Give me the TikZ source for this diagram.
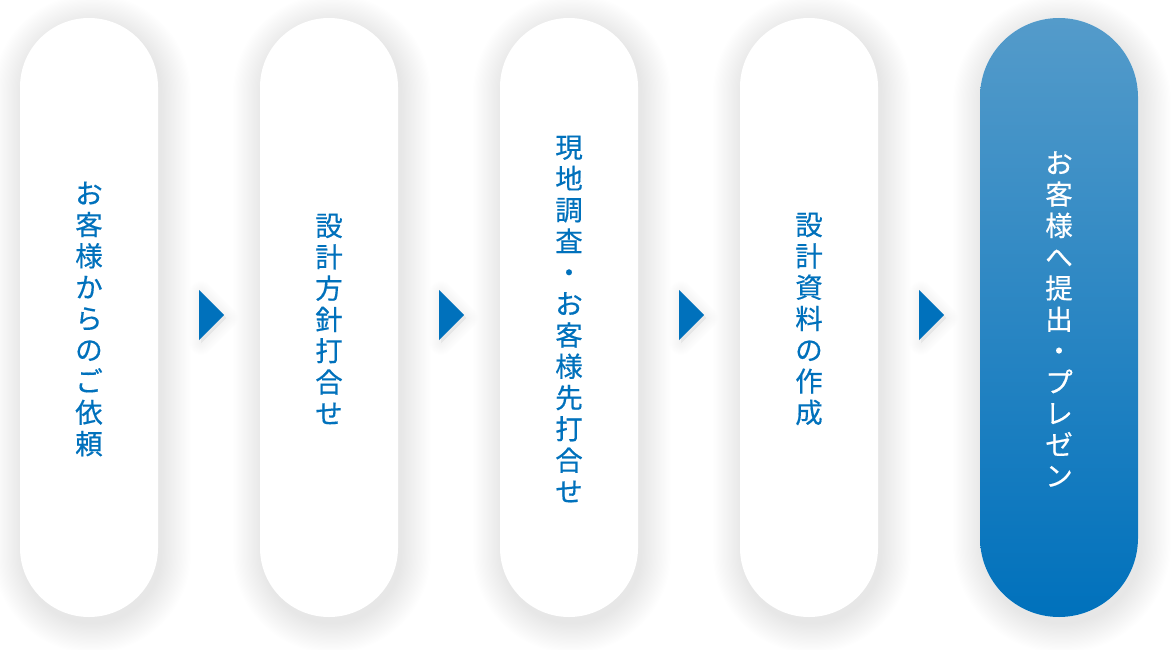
\documentclass[tikz,border=0pt]{standalone}
\usepackage{fontspec}
\newfontfamily\jp[FakeBold=0.4]{Noto Sans CJK JP}
\definecolor{cblue}{HTML}{0071BC}
\definecolor{ctop}{HTML}{549BCA}
\tikzset{
  pill/.style={rectangle, rounded corners=69pt, minimum width=138pt, minimum height=599pt,
    fill=white, inner sep=0pt},
  lastpill/.style={pill, rounded corners=79pt, minimum width=158pt, top color=ctop, bottom color=cblue},
  lbl/.style={align=center, font=\jp\fontsize{27.5}{31.3}\selectfont, text=cblue, inner sep=0pt},
  lastlbl/.style={lbl, text=white},
  shadowlayer/.style={fill=black, opacity=0.0038},
  trishadow/.style={draw=black, fill=black, opacity=0.0045, line join=round},
  arrowtri/.style={fill=cblue}
}
\begin{document}
\begin{tikzpicture}[x=1pt,y=-1pt]
\useasboundingbox[fill=white] (0,0) rectangle (1172,650);
% soft shadows of the pills
\foreach \cx/\hw in {89/69,329/69,569/69,809/69,1059/79}{
  \foreach \k in {1,...,24}{
    \pgfmathsetmacro{\e}{\k*1.25}
    \pgfmathsetmacro{\r}{\hw+\e}
    \fill[shadowlayer, rounded corners=\r pt]
      (\cx-\hw-\e+3, 18-\e+6) rectangle (\cx+\hw+\e+3, 617+\e+6);
  }
}
% soft shadows of the arrows
\foreach \x in {211.5,451.5,691.5,931.5}{
  \foreach \k in {1,...,12}{
    \filldraw[trishadow, line width=2*\k pt, shift={(\x+2,318)}] (-12.5,-25) -- (12.5,0) -- (-12.5,25) -- cycle;
  }
}
\node[pill] (p1) at (89,317.5) {};
\node[pill] (p2) at (329,317.5) {};
\node[pill] (p3) at (569,317.5) {};
\node[pill] (p4) at (809,317.5) {};
\node[lastpill] (p5) at (1059,317.5) {};
\node[lbl] (t1) at (89,319) {お\\客\\様\\か\\ら\\の\\ご\\依\\頼};
\node[lbl] (t2) at (329,319) {設\\計\\方\\針\\打\\合\\せ};
\node[lbl] (t3) at (569,319) {現\\地\\調\\査\\・\\お\\客\\様\\先\\打\\合\\せ};
\node[lbl] (t4) at (809,319) {設\\計\\資\\料\\の\\作\\成};
\node[lastlbl] (t5) at (1059,319) {お\\客\\様\\へ\\提\\出\\・\\プ\\レ\\ゼ\\ン};
\foreach \i/\x in {1/211.5,2/451.5,3/691.5,4/931.5}{
  \coordinate (a\i) at (\x,315);
  \fill[arrowtri, shift={(a\i)}] (-12.5,-25) -- (12.5,0) -- (-12.5,25) -- cycle;
}
\end{tikzpicture}
\end{document}
